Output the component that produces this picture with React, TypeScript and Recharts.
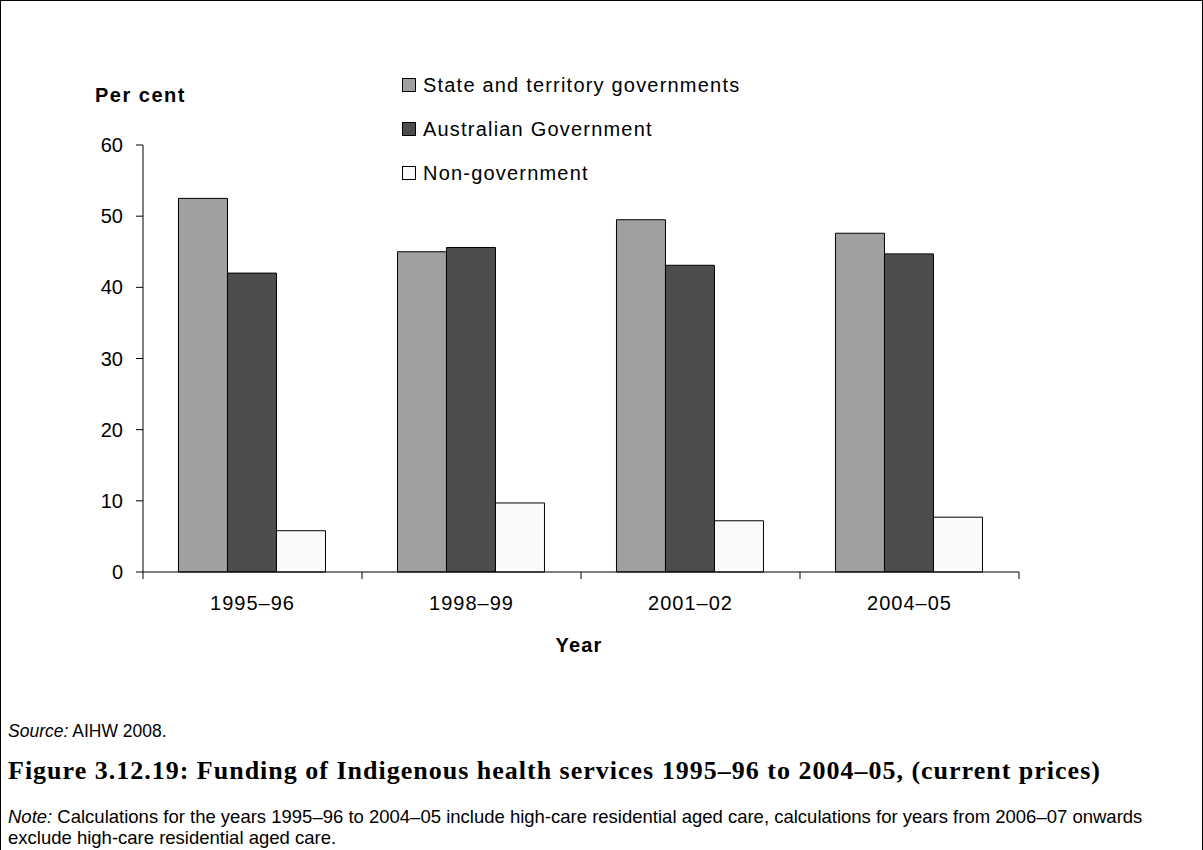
import React from 'react';
import { BarChart, Bar, XAxis, YAxis } from 'recharts';

const years = ['1995–96', '1998–99', '2001–02', '2004–05'];
const stateValues = [52.5, 45.0, 49.5, 47.6];
const federalValues = [42.0, 45.6, 43.1, 44.7];
const nonGovValues = [5.8, 9.7, 7.2, 7.7];
const yTicks = [0, 10, 20, 30, 40, 50, 60];

const series = [
  { key: 'state', label: 'State and territory governments', color: '#a0a0a0' },
  { key: 'federal', label: 'Australian Government', color: '#4d4d4d' },
  { key: 'nongov', label: 'Non-government', color: '#fafafa' },
];

const data = years.map((year, i) => ({
  year,
  state: stateValues[i],
  federal: federalValues[i],
  nongov: nonGovValues[i],
}));

const FONT = '"Liberation Sans", Arial, sans-serif';

// category label plus tick marks on the category boundaries
function YearTick(props: any) {
  const { x, y, payload, index, visibleTicksCount } = props;
  const half = payload && payload.offset ? payload.offset : 0;
  const last = index === visibleTicksCount - 1;
  return (
    <g>
      <line x1={x - half} x2={x - half} y1={y} y2={y + 7} stroke="#000" />
      {last && <line x1={x + half} x2={x + half} y1={y} y2={y + 7} stroke="#000" />}
      <text x={x} y={y + 31} dy="0.355em" textAnchor="middle" fill="#000" fontSize={20} fontFamily={FONT} letterSpacing={1}>
        {payload.value}
      </text>
    </g>
  );
}

function LegendBox() {
  return (
    <div style={{ fontFamily: FONT, fontSize: 20, letterSpacing: 1.2, color: '#000' }}>
      {series.map((s) => (
        <div key={s.key} style={{ display: 'flex', alignItems: 'center', height: 44 }}>
          <span style={{ display: 'inline-block', width: 12, height: 12, background: s.color, border: '1px solid #000', marginRight: 7 }} />
          <span>{s.label}</span>
        </div>
      ))}
    </div>
  );
}

export default function App() {
  return (
    <div style={{ position: 'absolute', left: 0, top: 0, width: 1203, height: 850, overflow: 'hidden', background: '#fff' }}>
      <div style={{ position: 'absolute', left: 0, top: 0, width: 1201, height: 900, borderTop: '1px solid #000', borderLeft: '1px solid #000', borderRight: '1px solid #000' }} />
      <div style={{ position: 'absolute', left: 0, top: 0 }}>
        <BarChart width={1050} height={640} data={data} margin={{ top: 145, right: 31, left: 83, bottom: 38 }} barCategoryGap="16.2%" barGap={0}>
          <XAxis dataKey="year" height={30} axisLine={{ stroke: '#000' }} tickLine={false} tickSize={0} tickMargin={0} tick={<YearTick />} interval={0} />
          <YAxis domain={[0, 60]} ticks={yTicks} width={60} axisLine={{ stroke: '#000' }} tickLine={{ stroke: '#000' }} tickSize={7} tickMargin={13} tick={{ fill: '#000', fontSize: 20, fontFamily: FONT }} interval={0} />
          {series.map((s) => (
            <Bar key={s.key} dataKey={s.key} name={s.label} fill={s.color} stroke="#000" strokeWidth={1} isAnimationActive={false} />
          ))}
        </BarChart>
      </div>
      <div style={{ position: 'absolute', left: 402, top: 63 }}>
        <LegendBox />
      </div>
      <div style={{ position: 'absolute', left: 95, top: 83, fontFamily: FONT, fontSize: 20, lineHeight: '24px', fontWeight: 'bold', letterSpacing: 1.5 }}>Per cent</div>
      <div style={{ position: 'absolute', left: 529, top: 633, width: 100, textAlign: 'center', fontFamily: FONT, fontSize: 20, lineHeight: '24px', fontWeight: 'bold', letterSpacing: 1.2 }}>Year</div>
      <div style={{ position: 'absolute', left: 8, top: 721, fontFamily: FONT, fontSize: 17.5, lineHeight: '21px' }}><i>Source:</i> AIHW 2008.</div>
      <div style={{ position: 'absolute', left: 8, top: 756, fontFamily: '"Liberation Serif", serif', fontSize: 26, lineHeight: '30px', fontWeight: 'bold', letterSpacing: 1, whiteSpace: 'nowrap' }}>Figure 3.12.19: Funding of Indigenous health services 1995–96 to 2004–05, (current prices)</div>
      <div style={{ position: 'absolute', left: 8, top: 806, width: 1165, fontFamily: FONT, fontSize: 18.5, lineHeight: '21px' }}>
        <i>Note:</i> Calculations for the years 1995–96 to 2004–05 include high-care residential aged care, calculations for years from 2006–07 onwards exclude high-care residential aged care.
      </div>
    </div>
  );
}
